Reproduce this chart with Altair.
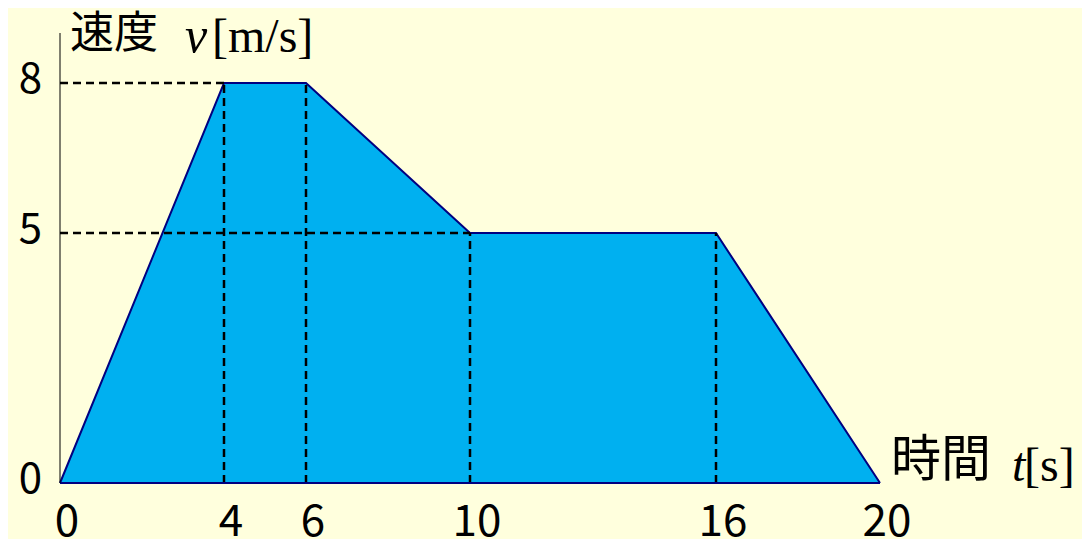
import altair as alt
import pandas as pd

# ---- data ----
t_vals = [0, 4, 6, 10, 16, 20]
v_vals = [0, 8, 8, 5, 5, 0]
x_ticks = [0, 4, 6, 10, 16, 20]
y_ticks = [0, 5, 8]
h_guide_v = [8, 5]
h_guide_t_end = [4, 10]
v_guide_t = [4, 6, 10, 16]
v_guide_v_end = [8, 8, 5, 5]

BG = "#FFFFDD"
FILL = "#00B0F0"
EDGE = "#000080"
CJK = "Noto Sans CJK JP"
SERIF = "Liberation Serif"

xs = alt.Scale(domain=[0, 20], range=[52, 872])
ys = alt.Scale(domain=[0, 8], range=[475, 75])

df = pd.DataFrame({"t": t_vals, "v": v_vals})
area = alt.Chart(df).mark_area(
    color=FILL, opacity=1, line={"color": EDGE, "strokeWidth": 2}
).encode(
    x=alt.X("t:Q", scale=xs, axis=None),
    y=alt.Y("v:Q", scale=ys, axis=None),
)

hdf = pd.DataFrame({"v": h_guide_v, "t0": [0] * len(h_guide_v), "t1": h_guide_t_end})
hrules = alt.Chart(hdf).mark_rule(color="black", strokeWidth=2.5, strokeDash=[8, 5]).encode(
    y=alt.Y("v:Q", scale=ys, axis=None),
    x=alt.X("t0:Q", scale=xs, axis=None),
    x2="t1:Q",
)

vdf = pd.DataFrame({"t": v_guide_t, "v0": [0] * len(v_guide_t), "v1": v_guide_v_end})
vrules = alt.Chart(vdf).mark_rule(color="black", strokeWidth=2.5, strokeDash=[8, 5]).encode(
    x=alt.X("t:Q", scale=xs, axis=None),
    y=alt.Y("v0:Q", scale=ys, axis=None),
    y2="v1:Q",
)

axdf = pd.DataFrame({"t0": [0], "t1": [20], "v0": [0], "v1": [9]})
xaxis = alt.Chart(axdf).mark_rule(color=EDGE, strokeWidth=2).encode(
    x=alt.X("t0:Q", scale=xs, axis=None), x2="t1:Q",
    y=alt.Y("v0:Q", scale=ys, axis=None),
)
yaxis = alt.Chart(axdf).mark_rule(color="black", strokeWidth=1).encode(
    x=alt.X("t0:Q", scale=xs, axis=None),
    y=alt.Y("v0:Q", scale=ys, axis=None), y2="v1:Q",
)

xl = alt.Chart(pd.DataFrame({"t": x_ticks, "s": [str(v) for v in x_ticks]})).mark_text(
    font=CJK, fontSize=44, align="center", baseline="alphabetic", dx=7, color="black"
).encode(x=alt.X("t:Q", scale=xs, axis=None), y=alt.value(528), text="s:N")

yl = alt.Chart(pd.DataFrame({"v": y_ticks, "s": [str(v) for v in y_ticks]})).mark_text(
    font=CJK, fontSize=42, align="right", baseline="middle", dx=-18, dy=-3, color="black"
).encode(y=alt.Y("v:Q", scale=ys, axis=None), x=alt.value(52), text="s:N")


def label(txt, x, y, font, size, style="normal"):
    return alt.Chart(pd.DataFrame({"s": [txt]})).mark_text(
        font=font, fontSize=size, fontStyle=style, align="left",
        baseline="alphabetic", color="black"
    ).encode(x=alt.value(x), y=alt.value(y), text="s:N")


titles = [
    label("速度", 62, 40, CJK, 44),
    label("v", 177, 44, SERIF, 50, "italic"),
    label("[m/s]", 204, 44, SERIF, 48),
    label("時間", 883, 468, CJK, 50),
    label("t", 1004, 473, SERIF, 48, "italic"),
    label("[s]", 1016, 473, SERIF, 48),
]

chart = alt.layer(area, vrules, hrules, xaxis, yaxis, xl, yl, *titles).properties(
    width=1074, height=531, padding=0, autosize=alt.AutoSizeParams(type="none"),
    background=BG,
).configure_view(stroke=None)

chart.save("out.html", embed_options={"renderer": "svg", "actions": False})
